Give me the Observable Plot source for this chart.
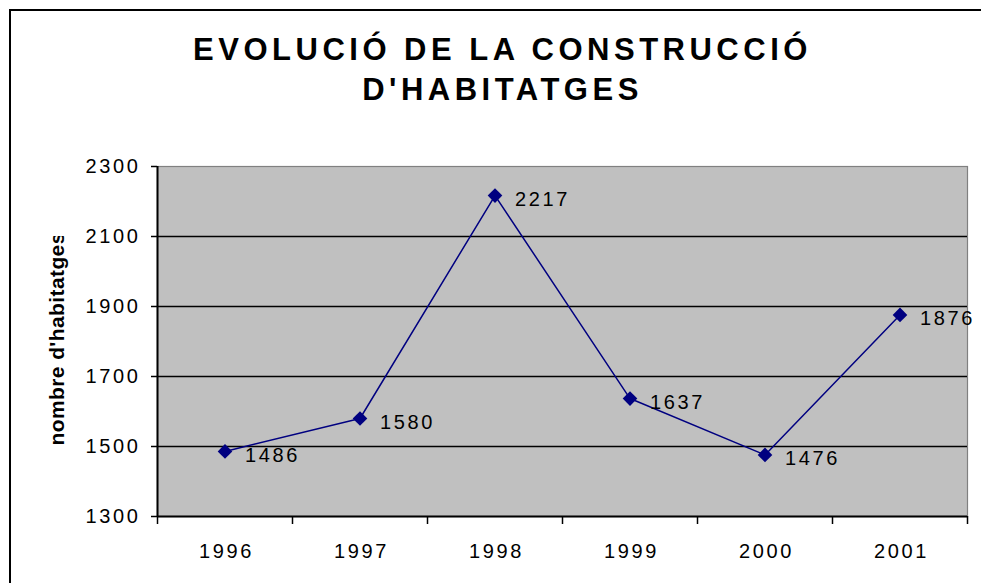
<!DOCTYPE html>
<html>
<head>
<meta charset="utf-8">
<script src="https://cdn.jsdelivr.net/npm/d3@7"></script>
<script src="https://cdn.jsdelivr.net/npm/@observablehq/plot@0.6"></script>
<style>
  html, body { margin: 0; padding: 0; background: #fff; }
  #wrap { position: relative; width: 981px; height: 583px; overflow: hidden; font-family: "Liberation Sans", Arial, sans-serif; }
  #border { position: absolute; left: 9px; top: 9px; width: 1200px; height: 800px; border-left: 2px solid #000; border-top: 2px solid #000; }
  #title { position: absolute; left: 0; top: 30px; width: 981px; text-align: center; font-size: 31px; font-weight: bold; letter-spacing: 4.5px; line-height: 40px; color: #000; transform: translateX(12px); }
  #chart { position: absolute; left: 0; top: 0; }
  #chart svg text { letter-spacing: 2.6px; }
</style>
</head>
<body>
<div id="wrap">
  <div id="border"></div>
  <div id="chart"></div>
  <div id="title">EVOLUCIÓ DE LA CONSTRUCCIÓ<br>D'HABITATGES</div>
</div>
<script>
const years = [1996, 1997, 1998, 1999, 2000, 2001];
const values = [1486, 1580, 2217, 1637, 1476, 1876];
const yTicks = [1300, 1500, 1700, 1900, 2100, 2300];
const gridValues = [1500, 1700, 1900, 2100];
const yLabel = "nombre d'habitatges";

const data = years.map((y, i) => ({year: y, value: values[i]}));
const bounds = years.map(y => y - 0.5).concat([years[years.length - 1] + 0.5]);

const svg = Plot.plot({
  width: 981,
  height: 583,
  marginLeft: 157,
  marginRight: 14,
  marginTop: 166,
  marginBottom: 67,
  style: {fontFamily: "'Liberation Sans', Arial, sans-serif", fontSize: "20px", color: "#000", background: "transparent", overflow: "visible"},
  x: {type: "linear", domain: [bounds[0], bounds[bounds.length - 1]], label: null},
  y: {type: "linear", domain: [yTicks[0], yTicks[yTicks.length - 1]], label: null},
  marks: [
    Plot.frame({fill: "#C0C0C0", stroke: "#808080", strokeWidth: 1.2}),
    Plot.ruleY(gridValues, {stroke: "#000", strokeWidth: 1.3}),
    Plot.ruleX([bounds[0]], {stroke: "#000", strokeWidth: 2}),
    Plot.ruleY([yTicks[0]], {stroke: "#000", strokeWidth: 2}),
    Plot.line(data, {x: "year", y: "value", stroke: "#000080", strokeWidth: 1.5}),
    Plot.dot(data, {x: "year", y: "value", symbol: "diamond2", r: 6.6, fill: "#000080", stroke: "none"}),
    Plot.text(data, {x: "year", y: "value", text: d => String(d.value), textAnchor: "start", dx: 20, dy: 4, fill: "#000"}),
    Plot.axisY({ticks: yTicks, tickSize: 6, tickPadding: 11, tickFormat: d => String(d), strokeWidth: 1.5, label: null}),
    Plot.axisX({ticks: bounds, tickSize: 8, tickFormat: () => "", strokeWidth: 1.5, label: null}),
    Plot.axisX({ticks: years, tickSize: 0, tickPadding: 27, tickFormat: d => String(d), dx: 1.5, label: null}),
    Plot.text([yLabel], {frameAnchor: "left", text: d => d, rotate: -90, textAnchor: "start", dx: -100, dy: 104, fontSize: 21, fontWeight: "bold", fill: "#000"})
  ]
});

document.getElementById("chart").appendChild(svg);

// clip the rotated axis title at the top, as in the original
const ns = "http://www.w3.org/2000/svg";
const defs = document.createElementNS(ns, "defs");
const cp = document.createElementNS(ns, "clipPath");
cp.setAttribute("id", "ylabclip");
cp.setAttribute("clipPathUnits", "userSpaceOnUse");
const rect = document.createElementNS(ns, "rect");
rect.setAttribute("x", 0); rect.setAttribute("y", 236);
rect.setAttribute("width", 981); rect.setAttribute("height", 400);
cp.appendChild(rect); defs.appendChild(cp); svg.insertBefore(defs, svg.firstChild);
svg.querySelectorAll("text").forEach(t => {
  if (t.textContent === yLabel) {
    t.style.letterSpacing = "0.4px";
    t.style.fontSize = "21px";
    const markGroup = t.parentNode;
    const wrapper = document.createElementNS(ns, "g");
    wrapper.setAttribute("clip-path", "url(#ylabclip)");
    markGroup.parentNode.insertBefore(wrapper, markGroup);
    wrapper.appendChild(markGroup);
  }
});
</script>
</body>
</html>
